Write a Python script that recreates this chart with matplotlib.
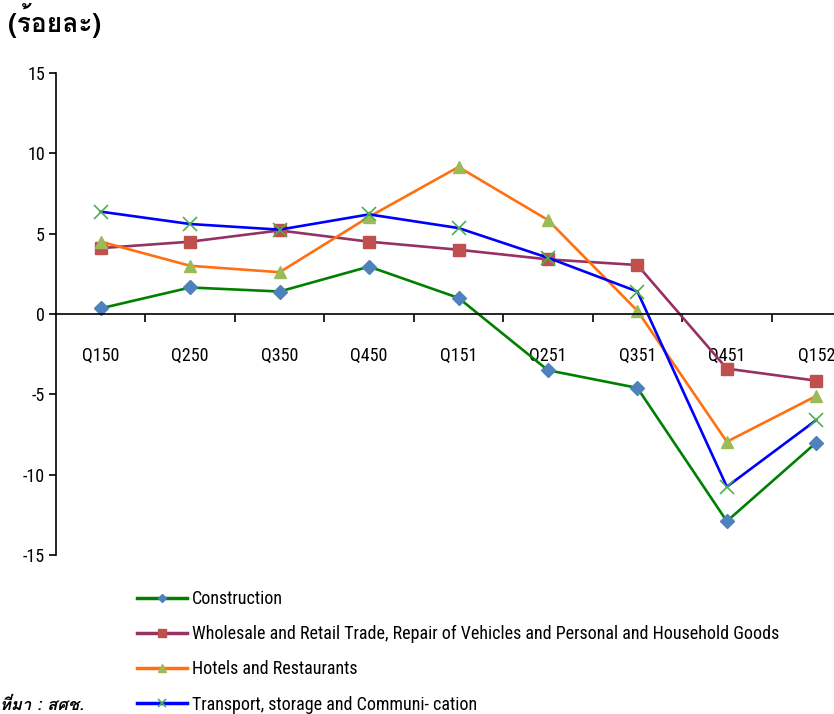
import matplotlib
matplotlib.use("Agg")
import matplotlib.pyplot as plt
from matplotlib import font_manager as fm
from matplotlib.ft2font import FT2Font
from matplotlib.ticker import FixedLocator

# ---------------- data ----------------
quarters = ["Q150", "Q250", "Q350", "Q450", "Q151", "Q251", "Q351", "Q451", "Q152"]
construction = [0.35, 1.65, 1.4, 2.95, 1.0, -3.5, -4.6, -12.9, -8.0]
wholesale = [4.1, 4.5, 5.2, 4.5, 4.0, 3.4, 3.05, -3.4, -4.15]
hotels = [4.5, 3.0, 2.6, 6.05, 9.15, 5.85, 0.2, -7.95, -5.1]
transport = [6.37, 5.6, 5.25, 6.2, 5.35, 3.5, 1.4, -10.75, -6.6]
series_names = [
    "Construction",
    "Wholesale and Retail Trade, Repair of Vehicles and Personal and Household Goods",
    "Hotels and Restaurants",
    "Transport, storage and Communi- cation",
]
y_ticks = [-15, -10, -5, 0, 5, 10, 15]
unit_label = "(ร้อยละ)"
source_label = "ที่มา : สศช."

# ---------------- fonts ----------------
names = {f.name for f in fm.fontManager.ttflist}
narrow = None
for cand in ["Liberation Sans Narrow", "Arial Narrow", "Roboto Condensed", "Open Sans Condensed"]:
    if cand in names:
        narrow = cand
        break
base_family = [narrow, "Liberation Sans", "DejaVu Sans"] if narrow else ["Liberation Sans", "DejaVu Sans"]


def find_font_with(ch):
    seen = set()
    for f in fm.fontManager.ttflist:
        if f.fname in seen:
            continue
        seen.add(f.fname)
        try:
            ft = FT2Font(f.fname)
            if ft.get_char_index(ord(ch)):
                return f.name
        except Exception:
            pass
    return None


thai_font = find_font_with("ร")
thai_family = [thai_font, "DejaVu Sans"] if thai_font else ["DejaVu Sans"]

plt.rcParams["font.family"] = base_family

# ---------------- figure ----------------
W, H = 834, 714
fig = plt.figure(figsize=(W / 100, H / 100), dpi=100)
ax_left = 56 / W
ax_bottom = (H - 555) / H
ax_top = (H - 73) / H
ax = fig.add_axes([ax_left, ax_bottom, 805 / W, ax_top - ax_bottom])

x = list(range(len(quarters)))
styles = [
    (construction, "#008000", "D", "#4F81BD", 7.5),
    (wholesale, "#953163", "s", "#C0504D", 8.5),
    (hotels, "#FF7010", "^", "#9BBB59", 9),
    (transport, "#0000FF", "x", "#4CB050", 9.5),
]
for (vals, lc, mk, mc, ms), name in zip(styles, series_names):
    ax.plot(x, vals, color=lc, lw=1.9, marker=mk, markersize=ms,
            markerfacecolor=mc, markeredgecolor=mc, markeredgewidth=1.0 if mk != "x" else 1.2,
            label=name, clip_on=False)

ax.set_xlim(-0.5, len(quarters) - 0.5)
ax.set_ylim(-15, 15)
ax.spines["top"].set_visible(False)
ax.spines["right"].set_visible(False)
ax.spines["bottom"].set_position(("data", 0))
ax.spines["left"].set_linewidth(1.2)
ax.spines["bottom"].set_linewidth(1.2)

ax.set_yticks(y_ticks)
ax.set_yticklabels([str(v) for v in y_ticks])
ax.tick_params(axis="y", direction="out", length=5, width=1.2, pad=3, labelsize=13)

ax.set_xticks(x)
ax.set_xticklabels(quarters)
ax.xaxis.set_minor_locator(FixedLocator([i + 0.5 for i in x[:-1]]))
ax.tick_params(axis="x", which="major", length=0, pad=24, labelsize=13)
ax.tick_params(axis="x", which="minor", direction="out", length=6, width=1.2)

fig.text(8 / W, (H - 21) / H, unit_label, family=thai_family, fontsize=19,
         fontweight="bold", va="center", ha="left")
fig.text(0, 1 / H, source_label, family=thai_family, fontsize=12,
         fontweight="bold", fontstyle="italic", va="bottom", ha="left")

handles, labels = ax.get_legend_handles_labels()
leg = fig.legend(handles, labels, loc="upper left",
                 bbox_to_anchor=(137 / W, (H - 590) / H),
                 frameon=False, fontsize=13, handlelength=2.75, handletextpad=0.3,
                 labelspacing=0.95, markerscale=0.6, numpoints=1, borderaxespad=0,
                 borderpad=0)
for line in leg.get_lines():
    line.set_linewidth(2.5)

fig.savefig("out.png", dpi=100)
